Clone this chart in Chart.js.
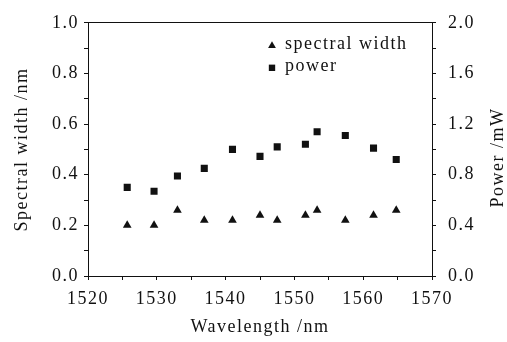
<!DOCTYPE html>
<html>
<head>
<meta charset="utf-8">
<script src="https://cdn.jsdelivr.net/npm/chart.js@4"></script>
<style>
  html, body { margin: 0; padding: 0; background: #fff; }
  #wrap { width: 507px; height: 342px; }
</style>
</head>
<body>
<div id="wrap"><canvas id="chart"></canvas></div>
<script>
// wavelengths (nm)
const wavelength = [1525.7, 1529.6, 1533.0, 1536.9, 1541.0, 1545.0, 1547.5, 1551.6, 1553.3, 1557.4, 1561.5, 1564.8];
// spectral width (nm), left axis
const spectralWidth = [0.20, 0.20, 0.26, 0.22, 0.22, 0.24, 0.22, 0.24, 0.26, 0.22, 0.24, 0.26];
// power (mW), right axis
const power = [0.70, 0.67, 0.79, 0.85, 1.00, 0.945, 1.02, 1.04, 1.14, 1.11, 1.01, 0.92];

const FONT = { family: '"Liberation Serif", "Times New Roman", serif', size: 18 };
const INK = '#111';
const LS = '1.5px';

const toPoints = (ys) => wavelength.map((x, i) => ({ x: x, y: ys[i] }));

// letter spacing to imitate the stretched serif face of the original
const spacing = {
  id: 'spacing',
  beforeInit(chart) { chart.ctx.letterSpacing = LS; },
  beforeDraw(chart) { chart.ctx.letterSpacing = LS; }
};

// legend inside plot + right title reading bottom-to-top
const extras = {
  id: 'extras',
  afterDraw(chart) {
    const ctx = chart.ctx;
    const area = chart.chartArea;
    ctx.save();
    ctx.letterSpacing = LS;
    ctx.font = FONT.size + 'px ' + FONT.family;
    ctx.fillStyle = INK;
    ctx.textBaseline = 'middle';
    // legend
    chart.data.datasets.forEach((ds, i) => {
      const y = area.top + 21 + i * 22;
      Chart.helpers.drawPoint(ctx, { pointStyle: ds.pointStyle, radius: ds.legendRadius, borderWidth: 0 }, area.left + 184, y + 2);
      ctx.fillStyle = INK;
      ctx.fillText(ds.label, area.left + 197, y);
    });
    // right axis title
    const y2 = chart.scales.y2;
    ctx.translate(y2.right - 9, (area.top + area.bottom) / 2 + 8);
    ctx.rotate(-Math.PI / 2);
    ctx.textAlign = 'center';
    ctx.fillText('Power /mW', 0, 0);
    ctx.restore();
  }
};

new Chart(document.getElementById('chart'), {
  type: 'scatter',
  data: {
    datasets: [
      {
        label: 'spectral width',
        data: toPoints(spectralWidth),
        yAxisID: 'y',
        pointStyle: 'triangle',
        pointRadius: 5,
        legendRadius: 4.5,
        backgroundColor: INK,
        borderColor: INK,
        borderWidth: 0
      },
      {
        label: 'power',
        data: toPoints(power),
        yAxisID: 'y2',
        pointStyle: 'rect',
        pointRadius: 5,
        legendRadius: 4.5,
        backgroundColor: INK,
        borderColor: INK,
        borderWidth: 0
      }
    ]
  },
  options: {
    responsive: true,
    maintainAspectRatio: false,
    animation: false,
    layout: { padding: { top: 20, left: 0, right: 0, bottom: 0 } },
    plugins: {
      legend: { display: false },
      tooltip: { enabled: false }
    },
    scales: {
      x: {
        type: 'linear',
        min: 1520,
        max: 1570,
        afterFit: (s) => { s.height = 66; },
        ticks: {
          stepSize: 5,
          autoSkip: false,
          maxRotation: 0,
          color: INK,
          font: FONT,
          padding: 8,
          callback: (v) => (v % 10 === 0 ? String(v) : '')
        },
        grid: { drawOnChartArea: false, tickLength: 4, tickColor: INK },
        border: { color: INK, width: 1 },
        title: { display: true, text: 'Wavelength /nm', color: INK, font: FONT, padding: { top: 0, bottom: 4 } }
      },
      y: {
        position: 'left',
        min: 0,
        max: 1,
        afterFit: (s) => { s.width = 88; },
        ticks: {
          stepSize: 0.1,
          autoSkip: false,
          color: INK,
          font: FONT,
          padding: 5,
          callback: (v) => (Math.round(v * 10) % 2 === 0 ? v.toFixed(1) : '')
        },
        grid: { drawOnChartArea: false, tickLength: 4, tickColor: INK },
        border: { color: INK, width: 1 },
        title: { display: true, text: 'Spectral width /nm', color: INK, font: FONT, padding: { top: 11, bottom: 0 } }
      },
      y2: {
        position: 'right',
        min: 0,
        max: 2,
        afterFit: (s) => { s.width = 75; },
        ticks: {
          stepSize: 0.2,
          autoSkip: false,
          color: INK,
          font: FONT,
          padding: 12,
          callback: (v) => (Math.round(v * 10) % 4 === 0 ? v.toFixed(1) : '')
        },
        grid: { drawOnChartArea: false, tickLength: 4, tickColor: INK },
        border: { color: INK, width: 1 }
      },
      top: {
        type: 'linear',
        position: 'top',
        min: 1520,
        max: 1570,
        afterFit: (s) => { s.height = 0; },
        ticks: { display: false },
        grid: { display: false, drawTicks: false },
        border: { display: true, color: INK, width: 1 }
      }
    }
  },
  plugins: [spacing, extras]
});
</script>
</body>
</html>
